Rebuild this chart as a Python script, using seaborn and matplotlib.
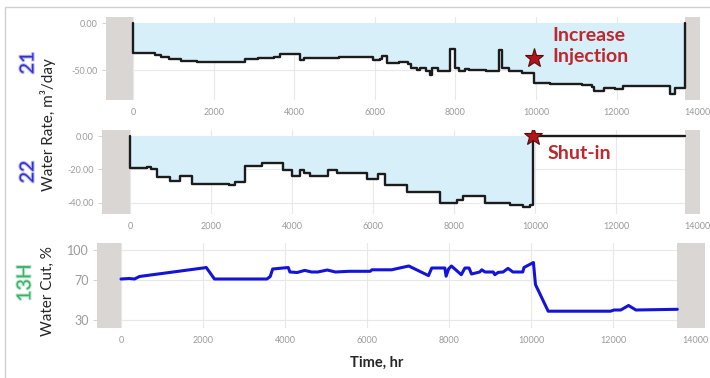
import matplotlib
matplotlib.use('Agg')
import matplotlib.pyplot as plt
import matplotlib.patheffects as pe
import pandas as pd
import seaborn as sns
from matplotlib.patches import Rectangle
from matplotlib.ticker import FormatStrFormatter

# Well 21 - water rate (m3/day), value holds from each time (hr) to the next
w21_time = [0, 0, 550, 700, 900, 1200, 1600, 2450, 2650, 2780, 3100, 3500, 3650, 4150, 4250,
            5100, 5600, 5900, 5960, 6120, 6170, 6300, 6600, 6830, 6900, 7040, 7120, 7280, 7360,
            7410, 7560, 7870, 8000, 8100, 8230, 8350, 8750, 9080, 9150, 9330, 9650, 9960, 10350,
            11150, 11400, 11450, 11680, 11950, 12150, 13330, 13450, 13700]
w21_rate = [0, -32, -34, -36.5, -38.5, -40, -41, -41.7, -41, -38.5, -37.5, -36.4, -33, -39, -37.5,
            -36.4, -35.7, -36.4, -39.2, -38.5, -35, -42, -41, -43, -48, -50, -48, -50.7, -55,
            -48, -51, -28, -48, -51, -49, -50, -51, -28.5, -48, -51.5, -52.8, -64.3, -65,
            -66, -68.5, -72, -69.6, -70.6, -67, -76, -69.6, 0]

# Well 22 - water rate (m3/day)
w22_time = [0, 0, 410, 520, 660, 990, 1235, 1520, 2450, 2600, 2840, 3250, 3785, 3990, 4200, 4300,
            4440, 4900, 5100, 5840, 6130, 6300, 6830, 7650, 8070, 8230, 8770, 9380, 9710, 9880,
            9960, 13700]
w22_rate = [0, -19, -18.6, -19.5, -24.3, -27, -24, -28.7, -29.3, -27.3, -18, -16.3, -20.3, -24,
            -20.3, -22.3, -24, -20.3, -22.3, -25.9, -22.5, -29.3, -33.3, -40.2, -38.2, -35.8,
            -40.2, -41.2, -42.2, -41, 0, 0]

# Well 13H - water cut (%)
w13_time = [0, 200, 330, 450, 2000, 2080, 2280, 3560, 3640, 3700, 4080, 4120, 4300, 4480, 4650,
            4800, 5030, 5230, 5560, 6080, 6120, 6600, 7020, 7500, 7580, 7900, 7930, 7990, 8060,
            8300, 8390, 8490, 8550, 8750, 8800, 8880, 9080, 9120, 9200, 9320, 9440, 9560, 9800,
            9830, 10060, 10110, 10220, 10420, 11940, 12030, 12190, 12380, 12560, 13570]
w13_cut = [71, 71.5, 71, 73.5, 82, 82.5, 71, 71, 73.5, 81, 82.5, 78, 77.5, 79.6, 78,
           78, 80, 78, 78.7, 78.7, 80.2, 80.2, 84, 74.4, 82, 82, 73.8, 81, 84,
           75.3, 82, 82, 76, 78, 80.2, 78, 78, 75.3, 77.6, 78, 81.6, 78, 78,
           82.5, 87.5, 65.4, 56, 38.8, 38.8, 40, 40, 44.5, 40, 40.7]

# events
inject_time, inject_rate = 9960, -37.3
shutin_time, shutin_rate = 9960, 0

time_ticks = list(range(0, 14001, 2000))
w21_ticks = [0, -50]
w22_ticks = [0, -20, -40]
w13_ticks = [30, 70, 100]

sns.set_theme(style='white')
plt.rcParams['font.family'] = ['Lato', 'DejaVu Sans']
plt.rcParams['axes.unicode_minus'] = False

fill_c = '#d6eff9'
band_c = '#d9d6d3'
grid_c = '#e8e8e8'
tick_c = '#9a9a9a'
note_c = '#c0262d'

fig = plt.figure(figsize=(7.1, 3.78), dpi=100)
ax1 = fig.add_axes([106/710, 1-100/378, 594/710, 83/378])
ax2 = fig.add_axes([102/710, 1-214/378, 598/710, 84/378])
ax3 = fig.add_axes([97/710, 1-328/378, 608/710, 85/378])


def style_axis(ax, xlim, ylim, end, yticks, ysize):
    ax.set_xlim(xlim)
    ax.set_ylim(ylim)
    ax.axvspan(xlim[0], 0, color=band_c, lw=0, zorder=0.6)
    ax.axvspan(end, xlim[1], color=band_c, lw=0, zorder=0.6)
    ax.set_xticks(time_ticks)
    ax.set_yticks(yticks)
    ax.grid(True, color=grid_c, lw=0.8)
    ax.set_axisbelow(True)
    for s in ax.spines.values():
        s.set_visible(False)
    ax.tick_params(axis='x', length=0, pad=6, labelsize=6.5, labelcolor=tick_c)
    ax.tick_params(axis='y', left=True, length=3, width=0.6, color='#cccccc', pad=3,
                   labelsize=ysize, labelcolor=tick_c)
    ax.set(xlabel='', ylabel='')


# top panel - well 21
df21 = pd.DataFrame({'time': w21_time, 'rate': w21_rate})
ax1.fill_between(df21['time'], df21['rate'], 0, step='post', color=fill_c, lw=0, zorder=1)
sns.lineplot(data=df21, x='time', y='rate', ax=ax1, sort=False, estimator=None,
             drawstyle='steps-post', color='#1c1c1c', lw=1.7, zorder=3)
style_axis(ax1, (-670, 14070), (-82, 6.7), 13700, w21_ticks, 6.5)
ax1.yaxis.set_major_formatter(FormatStrFormatter('%.2f'))
ax1.plot(inject_time, inject_rate, marker='*', ms=14, color='#b3141b', mec='#5c0a0a', mew=0.8, zorder=5)
ax1.text(10400, -24.5, 'Increase\nInjection', color=note_c, fontsize=14, fontweight='bold',
         ha='left', va='center', linespacing=1.3)

# middle panel - well 22
df22 = pd.DataFrame({'time': w22_time, 'rate': w22_rate})
open22 = df22[df22['time'] <= shutin_time]
ax2.fill_between(open22['time'], open22['rate'], 0, step='post', color=fill_c, lw=0, zorder=1)
sns.lineplot(data=df22, x='time', y='rate', ax=ax2, sort=False, estimator=None,
             drawstyle='steps-post', color='#1c1c1c', lw=1.7, zorder=3)
style_axis(ax2, (-690, 14070), (-46.6, 3.6), 13700, w22_ticks, 6.5)
ax2.yaxis.set_major_formatter(FormatStrFormatter('%.2f'))
ax2.plot(shutin_time, shutin_rate, marker='*', ms=14, color='#b3141b', mec='#5c0a0a', mew=0.8, zorder=5)
ax2.text(10300, -10.5, 'Shut-in', color=note_c, fontsize=14, fontweight='bold', ha='left', va='center')

# bottom panel - well 13H
df13 = pd.DataFrame({'time': w13_time, 'cut': w13_cut})
sns.lineplot(data=df13, x='time', y='cut', ax=ax3, sort=False, estimator=None,
             color='#1414d8', lw=2.2, zorder=3)
style_axis(ax3, (-585, 14245), (22, 107), 13570, w13_ticks, 9)

# side labels
fig.text(48/710, 1-125/378, 'Water Rate, m\u00b3/day', rotation=90, fontsize=11, ha='center', va='center')
fig.text(48/710, 1-291/378, 'Water Cut, %', rotation=90, fontsize=11, ha='center', va='center')
glow = [pe.withStroke(linewidth=1.5, foreground='#b8b8f0')]
fig.text(28/710, 1-63/378, '21', rotation=90, fontsize=14, color='#3030d0', ha='center', va='center',
         path_effects=glow)
fig.text(28/710, 1-172/378, '22', rotation=90, fontsize=14, color='#3030d0', ha='center', va='center',
         path_effects=glow)
fig.text(25/710, 1-283/378, '13H', rotation=90, fontsize=14, color='#37b26a', ha='center', va='center',
         path_effects=[pe.withStroke(linewidth=1.5, foreground='#bfe8cf')])
fig.text(377/710, 1-363/378, 'Time, hr', fontsize=10.5, fontweight='bold', ha='center', va='center')

# light frame of the screenshot
fig.patches.append(Rectangle((5/710, -0.1), 1.2, 1.1 - 7/378, transform=fig.transFigure,
                             fill=False, edgecolor='#cfcfcf', lw=1))

fig.savefig('out.png', dpi=100)
